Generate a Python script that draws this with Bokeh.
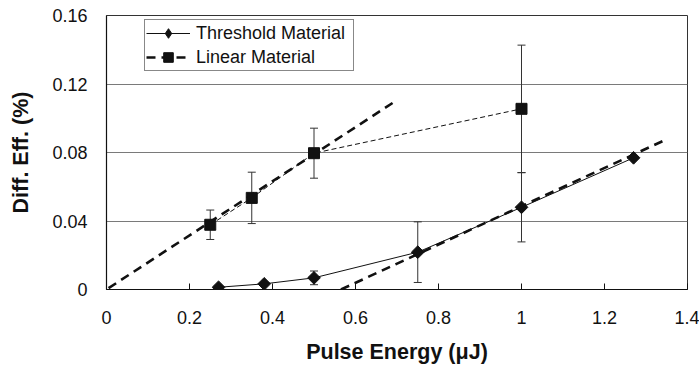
from bokeh.plotting import figure
from bokeh.models import (ColumnDataSource, Whisker, TeeHead, Legend, LegendItem,
                          FixedTicker, Range1d)
from bokeh.embed import file_html
from bokeh.resources import INLINE
import math

# Threshold material: pulse energy (uJ), diffraction efficiency (%), error
thr_x = [0.27, 0.38, 0.50, 0.75, 1.00, 1.27]
thr_y = [0.0013, 0.0033, 0.0068, 0.0218, 0.0480, 0.0769]
thr_err = [0.0, 0.0, 0.0040, 0.0177, 0.0202, 0.0]

# Linear material
lin_x = [0.25, 0.35, 0.50, 1.00]
lin_y = [0.0378, 0.0535, 0.0796, 0.1055]
lin_err = [0.0086, 0.0150, 0.0146, 0.0372]

# Linear trend lines (end points)
lin_fit_x = [0.005, 0.69]
lin_fit_y = [0.0008, 0.1090]
thr_fit_x = [0.565, 1.347]
thr_fit_y = [0.0, 0.0874]

x_ticks = [0, 0.2, 0.4, 0.6, 0.8, 1.0, 1.2, 1.4]
x_tick_labels = ["0", "0.2", "0.4", "0.6", "0.8", "1", "1.2", "1.4"]
y_ticks = [0, 0.04, 0.08, 0.12, 0.16]
y_tick_labels = ["0", "0.04", "0.08", "0.12", "0.16"]

FONT = "Liberation Sans"
INK = "#111111"

p = figure(width=699, height=370, output_backend="svg", toolbar_location=None,
           x_range=Range1d(0, 1.4), y_range=Range1d(0, 0.16),
           min_border_left=106, min_border_right=12, min_border_top=15,
           min_border_bottom=81)
p.background_fill_color = "white"
p.border_fill_color = "white"
p.outline_line_color = "#333333"
p.outline_line_width = 1

# axes
p.xaxis.ticker = FixedTicker(ticks=x_ticks)
p.yaxis.ticker = FixedTicker(ticks=y_ticks)
p.xaxis.major_label_overrides = dict(zip(x_ticks, x_tick_labels))
p.yaxis.major_label_overrides = dict(zip(y_ticks, y_tick_labels))
for ax in (p.xaxis, p.yaxis):
    ax.axis_line_color = INK
    ax.axis_line_width = 1.2
    ax.major_label_text_font = FONT
    ax.major_label_text_font_size = "18px"
    ax.major_label_text_color = INK
    ax.minor_tick_line_color = None
    ax.axis_label_text_font = FONT
    ax.axis_label_text_font_style = "bold"
    ax.axis_label_text_font_size = "21.5px"
    ax.axis_label_text_color = INK
p.xaxis.major_tick_in = 6
p.xaxis.major_tick_out = 0
p.xaxis.major_tick_line_color = INK
p.xaxis.major_label_standoff = 21
p.xaxis.axis_label = "Pulse Energy (\u03bcJ)"
p.xaxis.axis_label_standoff = 13
p.yaxis.major_tick_line_color = None
p.yaxis.major_label_standoff = 13
p.yaxis.axis_label = "Diff. Eff. (%)"
p.yaxis.axis_label_standoff = 16

p.xgrid.grid_line_color = None
p.ygrid.grid_line_color = "#7a7a7a"
p.ygrid.grid_line_width = 1

# trend lines
lin_fit = p.line(lin_fit_x, lin_fit_y, line_color=INK, line_width=2.6, line_dash="9 6")
p.line(thr_fit_x, thr_fit_y, line_color=INK, line_width=2.6, line_dash="9 6")

# data series
thr_src = ColumnDataSource(dict(x=thr_x, y=thr_y,
                                lo=[y - e for y, e in zip(thr_y, thr_err)],
                                hi=[y + e for y, e in zip(thr_y, thr_err)]))
lin_src = ColumnDataSource(dict(x=lin_x, y=lin_y,
                                lo=[y - e for y, e in zip(lin_y, lin_err)],
                                hi=[y + e for y, e in zip(lin_y, lin_err)]))

for src in (thr_src, lin_src):
    p.add_layout(Whisker(source=src, base="x", lower="lo", upper="hi",
                         line_color="#333333", line_width=1,
                         upper_head=TeeHead(size=8, line_color="#333333", line_width=1),
                         lower_head=TeeHead(size=8, line_color="#333333", line_width=1)))

thr_line = p.line("x", "y", source=thr_src, line_color=INK, line_width=1)
# diamond key glyph (sits inside the rotated squares; gives the legend its diamond)
thr_key = p.scatter("x", "y", source=thr_src, marker="diamond", size=8,
                    fill_color=INK, line_color=INK)
p.scatter("x", "y", source=thr_src, marker="square", angle=math.pi / 4,
          size=9, fill_color=INK, line_color=INK)
p.line("x", "y", source=lin_src, line_color=INK, line_width=1, line_dash="5 3")
lin_pts = p.scatter("x", "y", source=lin_src, marker="square", size=11,
                    fill_color=INK, line_color=INK)

legend = Legend(items=[
    LegendItem(label="Threshold Material", renderers=[thr_line, thr_key]),
    LegendItem(label="Linear Material", renderers=[lin_fit, lin_pts]),
], location=(38, 218), margin=0, padding=1, spacing=0,
    glyph_width=44, glyph_height=24, label_height=24, label_standoff=6,
    label_width=156,
    label_text_font=FONT, label_text_font_size="18px", label_text_color=INK,
    border_line_color=INK, border_line_width=1, background_fill_alpha=1)
p.add_layout(legend)

open("out.html", "w").write(file_html(p, INLINE))
